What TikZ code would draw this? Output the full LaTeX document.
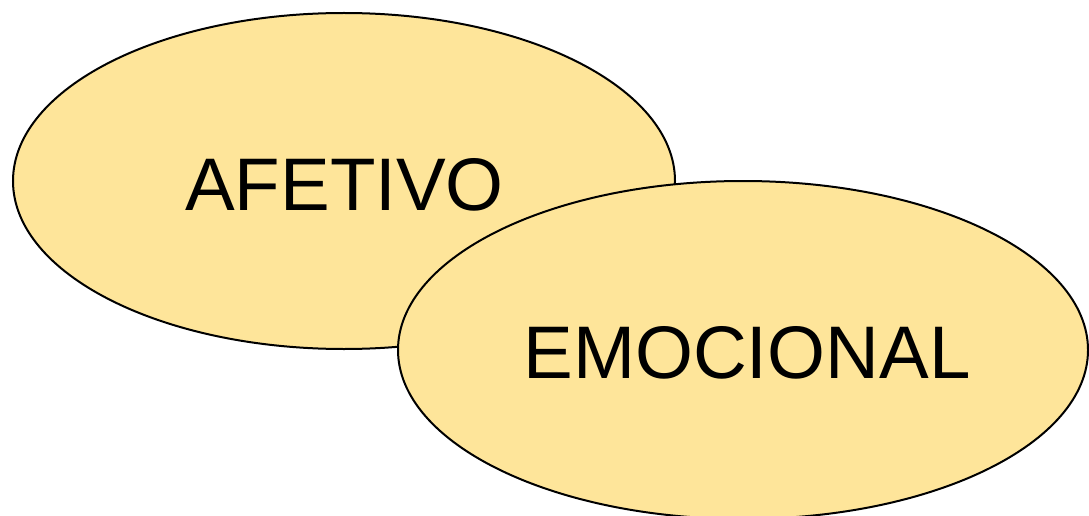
\documentclass[tikz,border=0pt]{standalone}
\usepackage{fontspec}
\setmainfont{Liberation Sans}
\definecolor{ellfill}{HTML}{FEE59A}
\begin{document}
\begin{tikzpicture}[x=1pt,y=-1pt,
  blob/.style={draw=black,line width=2pt,fill=ellfill},
  lbl/.style={font=\fontsize{74.5}{90}\selectfont,inner sep=0pt}]
\useasboundingbox (0,0) rectangle (1089,516);
\begin{scope}
\clip (0,0) rectangle (1089,516);
\draw[blob] (344,181) ellipse [x radius=331,y radius=168];
\node[lbl] (afetivo) at (344.5,185) {AFETIVO};
\draw[blob] (743,350) ellipse [x radius=345,y radius=169];
\node[lbl] (emocional) at (747,353) {EMOCIONAL};
\end{scope}
\end{tikzpicture}
\end{document}
